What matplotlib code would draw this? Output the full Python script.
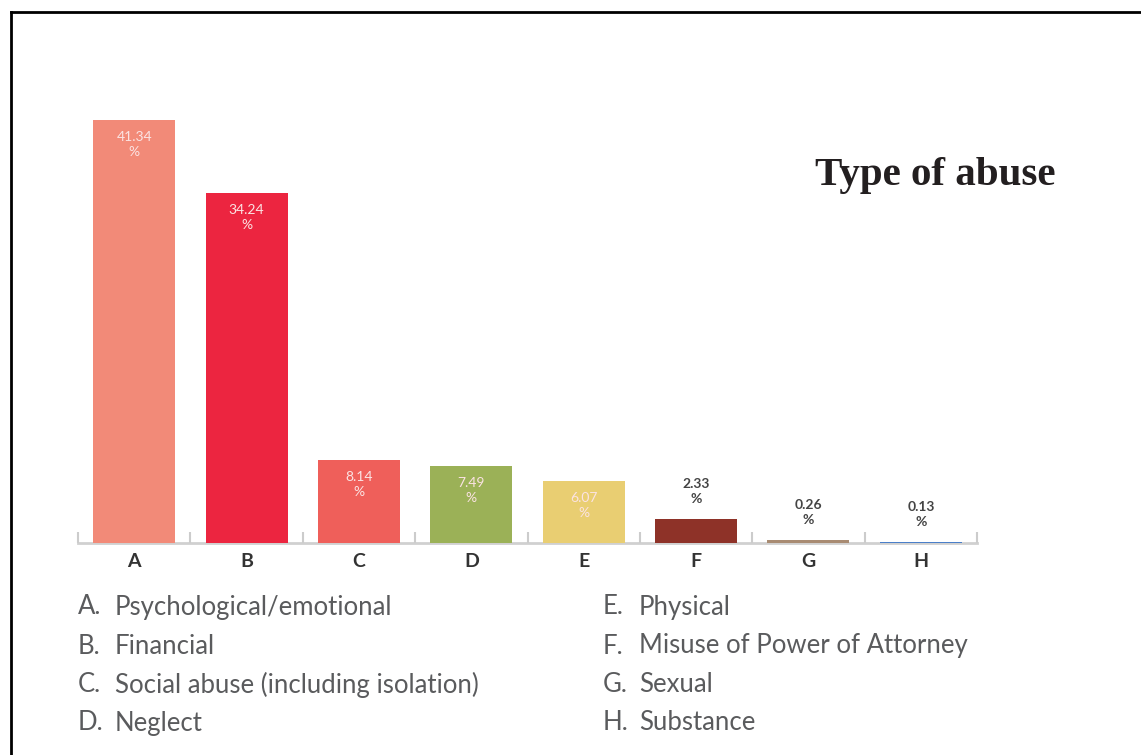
import matplotlib
matplotlib.use("Agg")
import matplotlib.pyplot as plt
from matplotlib.lines import Line2D

categories = ["A", "B", "C", "D", "E", "F", "G", "H"]
values = [41.34, 34.24, 8.14, 7.49, 6.07, 2.33, 0.26, 0.13]
descriptions = ["Psychological/emotional", "Financial",
                "Social abuse (including isolation)", "Neglect",
                "Physical", "Misuse of Power of Attorney", "Sexual", "Substance"]
colors = ["#F28A78", "#EC2540", "#EF5F5A", "#9BB157",
          "#E9CE72", "#8E3228", "#A88B72", "#4A7FC9"]
inside_label = [True, True, True, True, True, False, False, False]
title = "Type of abuse"

W, H = 1141, 755
fig = plt.figure(figsize=(W / 100, H / 100), dpi=100)
fig.patch.set_facecolor("white")

# border (top and left)
fig.add_artist(Line2D([11 / W, 1], [1 - 12 / H, 1 - 12 / H], color="black", lw=2))
fig.add_artist(Line2D([11 / W, 11 / W], [0, 1 - 12 / H], color="black", lw=2))

ax = fig.add_axes([78 / W, (H - 543) / H, 899 / W, 511.5 / H])
x = list(range(len(categories)))
ax.bar(x, values, width=0.73, color=colors, zorder=3)
ax.set_xlim(-0.5, len(categories) - 0.5)
ax.set_ylim(0, 50)
for s in ["top", "right", "left"]:
    ax.spines[s].set_visible(False)
ax.spines["bottom"].set_color("#d0d0d0")
ax.spines["bottom"].set_linewidth(2)
ax.spines["bottom"].set_zorder(1)
ax.set_yticks([])
ax.set_xticks([i - 0.5 for i in range(len(categories) + 1)], minor=False)
ax.set_xticklabels([])
ax.tick_params(axis="x", direction="in", length=8, width=1.5, color="#cccccc")
for i, c in enumerate(categories):
    ax.annotate(c, (i, 0), xytext=(0, -13.5), textcoords="offset points",
                ha="center", va="center", fontsize=14, fontweight="bold",
                family="Lato", color="#333333")

for i, v in enumerate(values):
    lab = f"{v:.2f}\n%"
    if inside_label[i]:
        ax.annotate(lab, (i, v), xytext=(0, -8), textcoords="offset points",
                    ha="center", va="top", fontsize=10, family="Lato",
                    color="#FBE3E3", linespacing=1.3)
    else:
        ax.annotate(lab, (i, v), xytext=(0, 10), textcoords="offset points",
                    ha="center", va="bottom", fontsize=10, family="Lato",
                    color="#444444", fontweight="bold", linespacing=1.3)

fig.text(815 / W, 1 - 175 / H, title, family="Liberation Serif",
         fontweight="bold", fontsize=29.5, color="#231f20", va="center", ha="left")

row_y = [607, 646, 685, 723]
for k, (c, d) in enumerate(zip(categories, descriptions)):
    col = k // 4
    r = k % 4
    xl = 78 if col == 0 else 603
    xd = 115 if col == 0 else 639
    fig.text(xl / W, 1 - row_y[r] / H, c + ".", family="Lato", fontsize=18.5,
             color="#5a5b5d", va="center", ha="left")
    fig.text(xd / W, 1 - row_y[r] / H, d, family="Lato", fontsize=18.5,
             color="#5a5b5d", va="center", ha="left")

fig.savefig("out.png", dpi=100, facecolor="white")
